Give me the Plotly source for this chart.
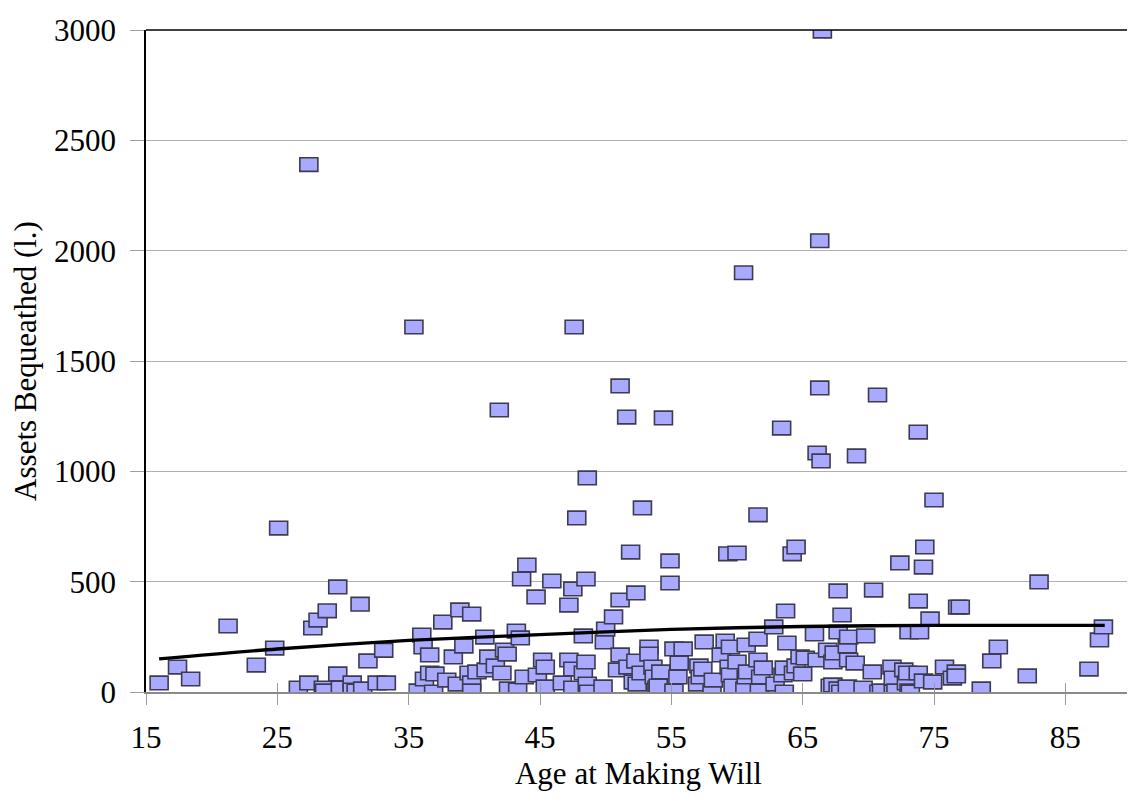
import plotly.graph_objects as go

# Age at making will (years)
ages = [
    16.0, 17.4, 18.4, 21.25, 23.4, 24.8, 25.1,
    26.6, 27.4, 27.4, 27.7, 28.1, 28.5, 28.6, 28.8, 29.6, 29.6, 29.8, 30.7, 30.7,
    31.0, 31.3, 31.5, 31.9, 32.6, 33.1, 33.3,
    35.4, 35.7, 36.0, 36.1, 36.2, 36.6, 36.6, 36.9, 37.0, 37.6, 37.9, 38.4, 38.7,
    38.9, 39.2, 39.6, 39.8, 39.8, 39.8, 40.2, 40.8, 40.9, 41.1, 41.6, 41.9, 42.1,
    42.3, 42.5, 42.6, 43.2, 43.3, 43.5, 43.6, 43.8,
    44.0, 44.7, 44.8, 45.2, 45.4, 45.4, 45.9, 46.7, 47.2, 47.2, 47.5, 47.5, 47.5,
    47.6, 47.8, 48.3, 48.3, 48.5, 48.5, 48.6, 48.6, 48.7, 49.8, 49.9, 50.0,
    50.6, 50.9, 51.1, 51.1, 51.1, 51.6, 51.7, 51.9, 52.1, 52.3, 52.3, 52.4, 52.7,
    52.8, 53.3, 53.3, 53.6, 53.7, 53.9, 54.0, 54.2, 54.4, 54.9, 54.9, 55.2, 55.2,
    55.5, 55.6,
    55.9, 57.0, 57.1, 57.2, 57.4, 57.5, 58.1, 58.2, 58.8, 59.1, 59.3, 59.4, 59.5,
    59.5, 59.7, 60.0, 60.0, 60.5, 60.6, 60.7, 60.7, 60.8, 61.6, 61.6, 61.6, 61.7,
    61.8, 62.0, 62.8, 62.9,
    63.4, 63.5, 63.6, 63.6, 63.7, 63.8, 64.2, 64.3, 64.5, 64.5, 64.8, 65.0, 65.2,
    65.9, 66.1, 66.1, 66.3, 66.3, 66.4, 66.5, 66.9, 67.1, 67.3, 67.3, 67.4, 67.7,
    67.7, 67.7, 67.9,
    68.0, 68.4, 68.4, 68.5, 68.5, 69.0, 69.1, 69.6, 69.8, 70.3, 70.4, 70.7, 70.8,
    71.0, 71.8, 71.9, 71.9, 72.1, 72.4, 72.7, 72.9, 73.0, 73.1, 73.1, 73.2, 73.8,
    73.8, 73.8, 73.9, 74.2, 74.2, 74.3, 74.7, 74.9, 75.0,
    75.8, 76.4, 76.7, 76.7, 76.8, 77.0, 78.6, 79.4, 79.9, 82.1, 83.0, 86.8, 87.6,
    87.9,
]

# Assets bequeathed (pounds)
assets = [
    41, 113, 59, 299, 122, 199, 743,
    18, 2390, 41, 290, 326, 18, 5, 368, 476, 82, 18, 41, 9,
    5, 398, 14, 141, 41, 189, 41,
    1654, 5, 258, 204, 59, 168, 86, 0, 82, 317, 54, 159, 36,
    372, 208, 86, 353, 41, 5, 91, 249, 100, 159, 118, 1278, 86,
    190, 172, 14, 276, 9, 245, 512, 68,
    575, 431, 77, 145, 113, 23, 503, 41, 394, 145, 467, 104, 18,
    1654, 789, 254, 86, 512, 136, 970, 36, 0, 23, 227, 285,
    340, 100, 1387, 417, 168, 1246, 113, 634, 45, 449, 140, 36, 86,
    834, 204, 172, 113, 68, 18, 27, 91, 1242, 594, 494, 195, 5,
    68, 131,
    195, 36, 118, 68, 104, 227, 0, 54, 168, 231, 626, 113, 204,
    77, 27, 630, 136, 1900, 14, 213, 68, 91, 803, 240, 145, 5,
    68, 109, 295, 36,
    1196, 77, 109, 0, 367, 222, 626, 86, 657, 118, 159, 82, 154,
    263, 1083, 145, 2045, 1378, 1047, 2995, 190, 27, 136, 32, 177, 458,
    272, 14, 0,
    349, 208, 23, 249, 145, 131, 1070, 18, 254, 91, 462, 1346, 0,
    5, 113, 63, 0, 5, 585, 100, 41, 86, 272, 5, 0, 1178,
    412, 86, 272, 566, 50, 657, 331, 45, 870,
    113, 63, 91, 73, 385, 385, 14, 141, 204, 73, 499, 104, 236,
    295,
]

# Trend line
trend_ages = [16, 25, 35, 45, 55, 65, 75, 88]
trend_values = [150, 195, 234, 260, 284, 297, 302, 302]

x_ticks = [15, 25, 35, 45, 55, 65, 75, 85]
y_ticks = [0, 500, 1000, 1500, 2000, 2500, 3000]

FONT = "Liberation Serif, Times New Roman, serif"
FILL = "#A9A9FF"
EDGE = "#3C3C50"

fig = go.Figure()

# invisible hover layer for the points (the visible marks are rectangles below)
fig.add_trace(go.Scatter(
    x=ages, y=assets, mode="markers", xaxis="x2",
    marker=dict(symbol="square", size=14, opacity=0),
    name="Wills", showlegend=False,
    hovertemplate="Age %{x}<br>Assets %{y}<extra></extra>",
))

fig.add_trace(go.Scatter(
    x=trend_ages, y=trend_values, mode="lines",
    line=dict(color="black", width=3.4, shape="spline", smoothing=0.8),
    showlegend=False, hoverinfo="skip",
))

shapes = []
for a, v in zip(ages, assets):
    shapes.append(dict(
        type="rect", xref="x", yref="y",
        xsizemode="pixel", ysizemode="pixel",
        xanchor=a, yanchor=v,
        x0=-9, x1=9, y0=-6.8, y1=6.8,
        fillcolor=FILL, line=dict(color=EDGE, width=1.6),
        layer="between",
    ))

# frame: black top, grey right
shapes.append(dict(type="line", xref="x domain", yref="y domain",
                   x0=0, x1=1, y0=1, y1=1,
                   line=dict(color="black", width=1.6), layer="above"))
shapes.append(dict(type="line", xref="x domain", yref="y domain",
                   x0=1, x1=1, y0=0, y1=1,
                   line=dict(color="#707070", width=2), layer="above"))

fig.update_layout(
    width=1127, height=788,
    margin=dict(l=138, r=4, t=22, b=104, autoexpand=False),
    paper_bgcolor="white", plot_bgcolor="white",
    font=dict(family=FONT, size=31, color="black"),
    shapes=shapes,
    showlegend=False,
    # companion axis giving the inner half of the crossing tick marks
    xaxis2=dict(
        overlaying="x", matches="x", side="bottom", anchor="y",
        tickmode="array", tickvals=x_ticks, showticklabels=False,
        ticks="inside", ticklen=9, tickcolor="#9a9a9a", tickwidth=1.3,
        showgrid=False, zeroline=False, showline=False, automargin=False,
    ),
)

fig.update_xaxes(
    selector=dict(anchor="y", overlaying=None),
)

fig.update_layout(xaxis=dict(
    range=[15, 90], tickmode="array", tickvals=x_ticks,
    ticktext=[str(t) for t in x_ticks],
    showgrid=False, zeroline=False, automargin=False,
    showline=True, linecolor="#8a8a8a", linewidth=1.6,
    ticks="outside", ticklen=11, tickcolor="#9a9a9a", tickwidth=1.3,
    ticklabelstandoff=6,
    tickfont=dict(family=FONT, size=31, color="black"),
    title=dict(text="Age at Making Will", font=dict(family=FONT, size=31), standoff=8),
))

fig.update_yaxes(
    range=[0, 3000], tickmode="array", tickvals=y_ticks,
    ticktext=[str(t) for t in y_ticks],
    showgrid=True, gridcolor="#b0b0b0", gridwidth=1.4,
    zeroline=False, automargin=False,
    showline=True, linecolor="black", linewidth=1.6,
    ticks="outside", ticklen=14, tickcolor="#a0a0a0", tickwidth=1.4,
    ticklabelstandoff=8,
    tickfont=dict(family=FONT, size=31, color="black"),
    title=dict(text="Assets Bequeathed (l.)", font=dict(family=FONT, size=31), standoff=10),
)

fig.write_html("out.html")
